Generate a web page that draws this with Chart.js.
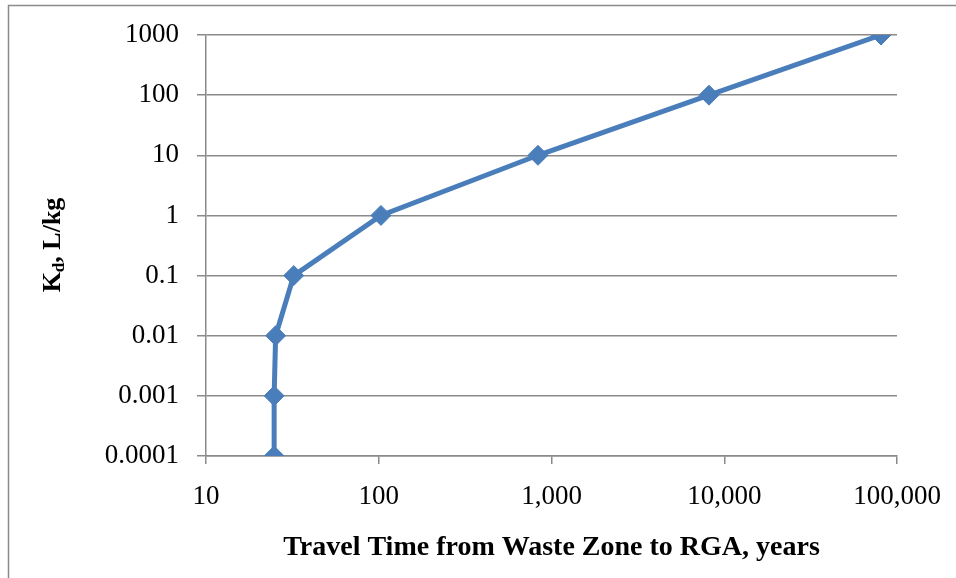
<!DOCTYPE html>
<html>
<head>
<meta charset="utf-8">
<script src="https://cdn.jsdelivr.net/npm/chart.js@4/dist/chart.umd.min.js"></script>
<style>
html,body{margin:0;padding:0;background:#fff;}
#wrap{position:relative;width:956px;height:578px;overflow:hidden;}
</style>
</head>
<body>
<div id="wrap"><canvas id="c" width="956" height="578"></canvas></div>
<script>
// Data
const travelTime = [24.8, 24.8, 25.3, 32.2, 103, 835, 8160, 80800];
const kdValues   = [0.0001, 0.001, 0.01, 0.1, 1, 10, 100, 1000];
const xTickValues = [10, 100, 1000, 10000, 100000];
const xTickLabels = ['10', '100', '1,000', '10,000', '100,000'];
const yTickValues = [0.0001, 0.001, 0.01, 0.1, 1, 10, 100, 1000];
const yTickLabels = ['0.0001', '0.001', '0.01', '0.1', '1', '10', '100', '1000'];
const xTitle = 'Travel Time from Waste Zone to RGA, years';
const yTitleMain = 'K', yTitleSub = 'd', yTitleRest = ', L/kg';

const GRID = '#8a8a8a';
const BLUE = '#4a7ebb';
const SERIF = '"Liberation Serif", "DejaVu Serif", serif';

const frame = {
  id: 'frame',
  beforeDraw(chart) {
    const ctx = chart.ctx;
    ctx.save();
    ctx.strokeStyle = GRID;
    ctx.lineWidth = 1.5;
    ctx.strokeRect(8.5, 5.5, 1000, 1000);
    ctx.restore();
  },
  afterDraw(chart) {
    const ctx = chart.ctx;
    ctx.save();
    ctx.translate(53, 245);
    ctx.rotate(-Math.PI / 2);
    ctx.fillStyle = '#000';
    ctx.textBaseline = 'middle';
    const big = 'bold 26px ' + SERIF, small = 'bold 17px ' + SERIF;
    ctx.font = big; const w1 = ctx.measureText(yTitleMain).width;
    const w3 = ctx.measureText(yTitleRest).width;
    ctx.font = small; const w2 = ctx.measureText(yTitleSub).width;
    let x = -(w1 + w2 + w3) / 2;
    ctx.font = big; ctx.textAlign = 'left'; ctx.fillText(yTitleMain, x, 0); x += w1;
    ctx.font = small; ctx.fillText(yTitleSub, x, 7); x += w2;
    ctx.font = big; ctx.fillText(yTitleRest, x, 0);
    ctx.restore();
  }
};

new Chart(document.getElementById('c'), {
  type: 'scatter',
  data: {
    datasets: [{
      data: travelTime.map((t, i) => ({x: t, y: kdValues[i]})),
      showLine: true,
      borderColor: BLUE,
      backgroundColor: BLUE,
      borderWidth: 5,
      pointStyle: 'rectRot',
      pointRadius: 10,
      pointHoverRadius: 10,
      pointBorderWidth: 1,
      pointBorderColor: BLUE,
      tension: 0
    }]
  },
  options: {
    responsive: false,
    animation: false,
    events: [],
    layout: {padding: {left: 0, right: 59, top: 35, bottom: 0}},
    plugins: {legend: {display: false}, tooltip: {enabled: false}},
    scales: {
      x: {
        type: 'logarithmic',
        min: 10, max: 100000,
        afterBuildTicks(s) { s.ticks = xTickValues.map(v => ({value: v, major: true})); },
        afterFit(s) { s.height = 122; s.paddingLeft = 0; s.paddingRight = 0; },
        ticks: {
          callback: (v, i) => xTickLabels[i],
          color: '#000',
          font: {family: SERIF, size: 27},
          padding: 17,
          maxRotation: 0, autoSkip: false
        },
        grid: {drawOnChartArea: false, drawTicks: true, tickLength: 8, color: GRID, lineWidth: 1.5},
        border: {display: true, color: GRID, width: 1.5},
        title: {
          display: true, text: xTitle, color: '#000',
          font: {family: SERIF, size: 28, weight: 'bold'},
          padding: {top: 0, bottom: 13}
        }
      },
      y: {
        type: 'logarithmic',
        min: 0.0001, max: 1000,
        afterBuildTicks(s) { s.ticks = yTickValues.map(v => ({value: v, major: true})); },
        afterFit(s) { s.width = 206; s.paddingTop = 0; s.paddingBottom = 0; },
        ticks: {
          callback: (v, i) => yTickLabels[i],
          color: '#000',
          font: {family: SERIF, size: 27},
          padding: 18,
          autoSkip: false
        },
        grid: {drawOnChartArea: true, drawTicks: true, tickLength: 9, color: GRID, lineWidth: 1.5},
        border: {display: true, color: GRID, width: 1.5}
      }
    }
  },
  plugins: [frame]
});
</script>
</body>
</html>
